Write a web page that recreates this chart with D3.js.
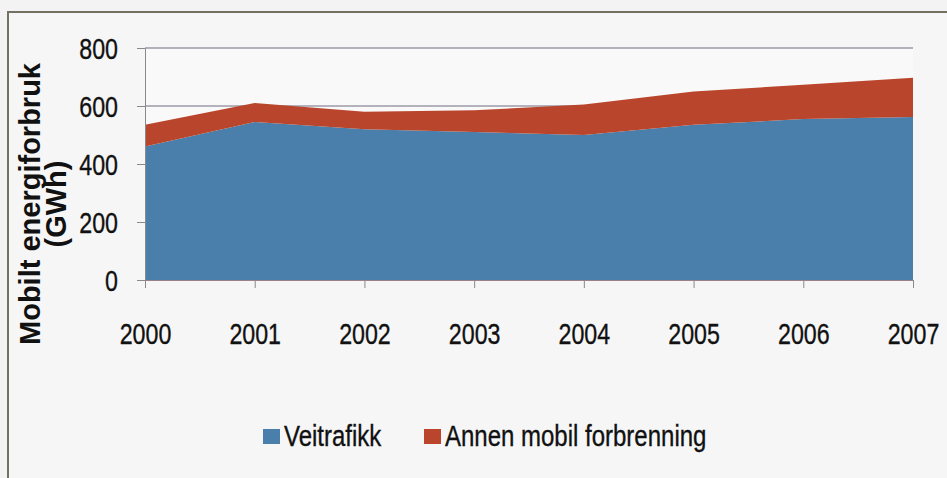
<!DOCTYPE html>
<meta charset='utf-8'>
<style>
body { margin: 0; background: #f3f3f3; }
svg { display: block; }
text { fill: #111; }
.tick text { font-family: 'Liberation Sans', Arial, sans-serif; font-size: 29px; stroke: #111; stroke-width: 0.35px; }
.legend text { font-family: 'Liberation Sans', Arial, sans-serif; font-size: 30px; stroke: #111; stroke-width: 0.35px; }
.ytitle { font-family: 'Liberation Sans', Arial, sans-serif; font-weight: bold; font-size: 29px; }
</style>
<svg width="947" height="478"></svg>
<script src="https://cdn.jsdelivr.net/npm/d3@7"></script>
<script>

const years = [2000, 2001, 2002, 2003, 2004, 2005, 2006, 2007];
const veitrafikk = [460, 545, 520, 510, 500, 535, 555, 562];
const annen = [75, 65, 60, 75, 105, 115, 118, 135];
const seriesNames = ['Veitrafikk', 'Annen mobil forbrenning'];
const colors = ['#4a7eab', '#b9462c'];
const yTicks = [0, 200, 400, 600, 800];

// the scan uses a narrow font; squeeze Liberation Sans to Arial Narrow width
const narrow = 0.8;

const svg = d3.select('svg');

// outer chart frame (only top and left edge visible in the scan)
svg.append('rect')
  .attr('x', 8).attr('y', 12)
  .attr('width', 1000).attr('height', 600)
  .attr('fill', '#f6f6f6')
  .attr('stroke', '#737262')
  .attr('stroke-width', 2);

const plotLeft = 145, plotRight = 913, plotTop = 48, plotBottom = 280;

const x = d3.scaleLinear().domain([years[0], years[years.length - 1]]).range([plotLeft, plotRight]);
const y = d3.scaleLinear().domain([0, 800]).range([plotBottom, plotTop]);

const table = years.map((yr, i) => ({ year: yr, 'Veitrafikk': veitrafikk[i], 'Annen mobil forbrenning': annen[i] }));
const stacked = d3.stack().keys(seriesNames)(table);

// plot area background
svg.append('rect')
  .attr('x', plotLeft).attr('y', plotTop)
  .attr('width', plotRight - plotLeft).attr('height', plotBottom - plotTop)
  .attr('fill', '#f9f9f9');

// gridlines
svg.append('g')
  .selectAll('line')
  .data(yTicks.filter(d => d > 0))
  .join('line')
  .attr('x1', plotLeft).attr('x2', plotRight)
  .attr('y1', d => y(d)).attr('y2', d => y(d))
  .attr('stroke', '#6c6b80')
  .attr('stroke-width', 1);

const area = d3.area()
  .x(d => x(d.data.year))
  .y0(d => y(d[0]))
  .y1(d => y(d[1]));

svg.append('g')
  .selectAll('path')
  .data(stacked)
  .join('path')
  .attr('fill', (d, i) => colors[i])
  .attr('d', area);

// y axis
const yAxis = svg.append('g')
  .attr('transform', `translate(${plotLeft},0)`)
  .call(d3.axisLeft(y).tickValues(yTicks).tickSize(8).tickPadding(19));
yAxis.select('.domain').attr('stroke', '#8a8a8a');
yAxis.selectAll('.tick line').attr('stroke', '#8a8a8a');
yAxis.selectAll('.tick text')
  .attr('fill', '#111')
  .attr('dy', '0.36em')
  .attr('x', -27 / narrow)
  .attr('transform', `scale(${narrow},1)`);

// x axis
const xAxis = svg.append('g')
  .attr('transform', `translate(0,${plotBottom})`)
  .call(d3.axisBottom(x).tickValues(years).tickFormat(d3.format('d')).tickSize(8).tickPadding(35));
xAxis.select('.domain').attr('stroke', '#9a8088');
xAxis.selectAll('.tick line').attr('stroke', '#8a8a8a');
xAxis.selectAll('.tick text')
  .attr('fill', '#111')
  .attr('transform', `scale(${narrow},1)`);

// y axis title, two lines
const title = svg.append('text')
  .attr('class', 'ytitle')
  .attr('transform', 'translate(40,204) rotate(-90)')
  .attr('text-anchor', 'middle');
title.append('tspan').attr('x', 0).attr('dy', 0).text('Mobilt energiforbruk');
title.append('tspan').attr('x', 0).attr('dy', 26).text('(GWh)');

// legend
const legend = svg.append('g').attr('class', 'legend');
const legendX = [263, 424];
seriesNames.forEach((name, i) => {
  const g = legend.append('g').attr('transform', `translate(${legendX[i]},0)`);
  g.append('rect')
    .attr('x', 0).attr('y', 429)
    .attr('width', 17).attr('height', 15)
    .attr('fill', colors[i]);
  g.append('text')
    .attr('x', 21 / narrow).attr('y', 446)
    .attr('transform', `scale(${narrow},1)`)
    .text(name);
});

</script>
